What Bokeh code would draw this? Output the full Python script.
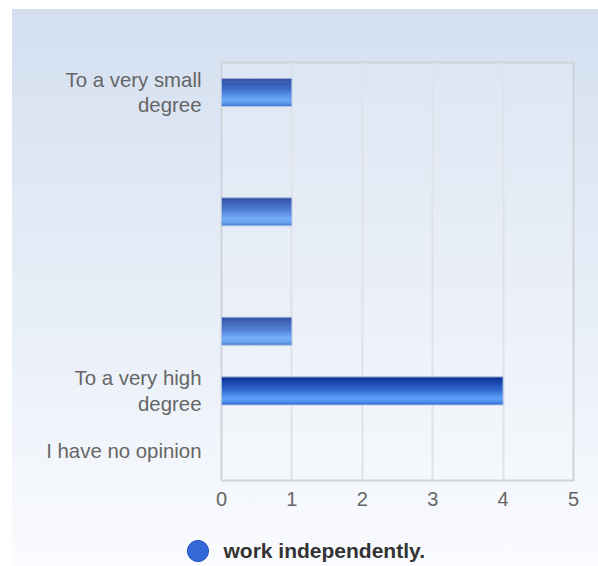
from bokeh.plotting import figure
from bokeh.layouts import column
from bokeh.models import (ColumnDataSource, FactorRange, Range1d, FixedTicker,
                          Legend, LegendItem, CDSView, BooleanFilter)
from bokeh.transform import dodge
from bokeh.embed import file_html
from bokeh.resources import INLINE

# ---- data ----
categories = ["To a very small\ndegree", " ", "  ", "   ", "    ",
              "To a very high\ndegree", "I have no opinion"]
counts = [1, 0, 1, 0, 1, 4, 0]
series_name = "work independently."
x_ticks = [0, 1, 2, 3, 4, 5]

FONT = "Liberation Sans"

p = figure(width=598, height=526, output_backend="svg", toolbar_location=None,
           y_range=FactorRange(factors=list(reversed(categories))),
           x_range=Range1d(0, 5),
           min_border_left=221, min_border_right=25, min_border_top=62, min_border_bottom=46)

p.border_fill_alpha = 0
p.background_fill_color = "white"
p.background_fill_alpha = 0.15
p.outline_line_color = "#cfd4da"
p.outline_line_width = 2

src = ColumnDataSource(dict(cat=categories, count=counts))

# gradient bars as horizontal strips
bar_h = 0.47
N = 28
stops = [(0.0, (10, 40, 134)), (0.15, (22, 66, 166)), (0.45, (46, 102, 206)),
         (0.75, (90, 160, 248)), (0.88, (78, 146, 238)), (1.0, (36, 94, 206))]

def col(t):
    for (t0, c0), (t1, c1) in zip(stops[:-1], stops[1:]):
        if t0 <= t <= t1:
            f = (t - t0) / (t1 - t0) if t1 > t0 else 0
            return "#%02x%02x%02x" % tuple(int(round(a + (b - a) * f)) for a, b in zip(c0, c1))
    return "#%02x%02x%02x" % stops[-1][1]

sh = bar_h / N
for i in range(N):
    off = bar_h / 2 - (i + 0.5) * sh
    p.hbar(y=dodge("cat", off, range=p.y_range), left=0, right="count", height=sh * 1.08,
           source=src, fill_color=col((i + 0.5) / N), line_color=None)

view = CDSView(filter=BooleanFilter([c > 0 for c in counts]))
p.hbar(y="cat", left=0, right="count", height=bar_h, source=src, view=view,
       fill_color=None, line_color="#b4c6e6", line_width=1)

# y axis (category labels)
p.yaxis.axis_line_color = None
p.yaxis.major_tick_line_color = None
p.yaxis.major_tick_out = 0
p.yaxis.major_tick_in = 0
p.yaxis.major_label_standoff = 20
p.yaxis.major_label_text_font = FONT
p.yaxis.major_label_text_font_size = "20.4px"
p.yaxis.major_label_text_color = "#666666"
p.yaxis.major_label_text_line_height = 1.15

p.ygrid.grid_line_color = None
p.xgrid.grid_line_color = "#dfe3e9"
p.xgrid.grid_line_width = 2
p.xaxis.ticker = FixedTicker(ticks=x_ticks)
p.xaxis.axis_line_color = None
p.xaxis.major_tick_line_color = None
p.xaxis.minor_tick_line_color = None
p.xaxis.major_tick_out = 0
p.xaxis.major_tick_in = 0
p.xaxis.major_label_standoff = 11
p.xaxis.major_label_text_font = FONT
p.xaxis.major_label_text_font_size = "20px"
p.xaxis.major_label_text_color = "#666666"

# legend strip (separate small figure so the legend is not clipped)
lf = figure(width=598, height=40, output_backend="svg", toolbar_location=None,
            x_range=Range1d(1, 2), y_range=Range1d(1, 2),
            x_axis_location=None, y_axis_location=None,
            min_border_left=0, min_border_right=0, min_border_top=0, min_border_bottom=0)
lf.frame_align = False
lf.border_fill_alpha = 0
lf.background_fill_alpha = 0
lf.outline_line_color = None
lf.xgrid.visible = False
lf.ygrid.visible = False
# swatch renderer: its single point lies outside the strip's ranges, only the legend shows it
lsrc = ColumnDataSource(dict(x=[0], y=[0]))
lr = lf.scatter(x="x", y="y", source=lsrc,
                marker="circle", size=21, fill_color="#3468d6", line_color="#2452c0")
legend = Legend(items=[LegendItem(label=series_name, renderers=[lr])],
                location=(170.5, -11), glyph_width=53, glyph_height=53, label_standoff=0,
                padding=0, margin=0, spacing=0, border_line_color=None, background_fill_alpha=0,
                label_text_font=FONT, label_text_font_size="21px", label_text_font_style="bold",
                label_text_color="#333333")
lf.add_layout(legend)

page = column(p, lf, spacing=0)
page.styles = {
    "background-image": "linear-gradient(to right, #ffffff 12px, transparent 12px), "
                        "linear-gradient(to bottom, #ffffff 9px, transparent 9px), "
                        "linear-gradient(to bottom, #d3dff0 0%, #e6edf7 50%, #fafbfe 100%)"
}

open("out.html", "w").write(file_html(page, INLINE))
